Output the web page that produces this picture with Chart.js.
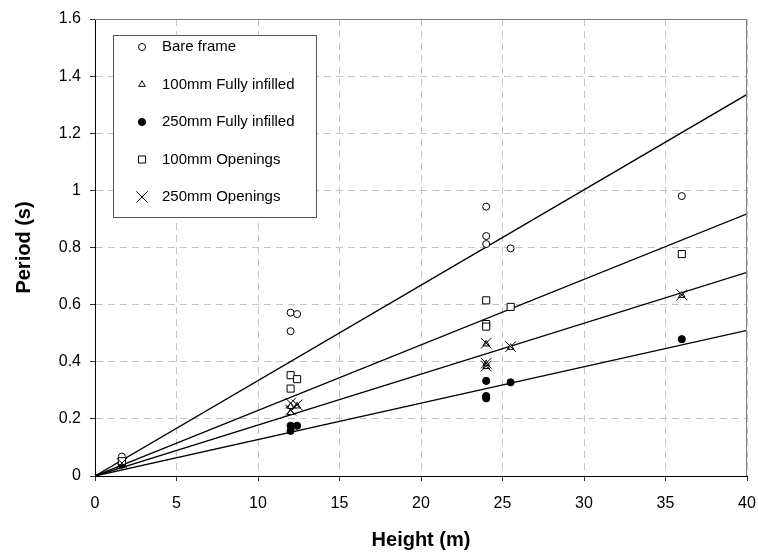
<!DOCTYPE html>
<html><head><meta charset="utf-8">
<script src="https://cdn.jsdelivr.net/npm/chart.js@4.4.1/dist/chart.umd.min.js"></script>
<style>html,body{margin:0;padding:0;background:#fff}#wrap{width:758px;height:552px}</style>
</head><body><div id="wrap"><canvas id="c" width="758" height="552"></canvas></div>
<script>
// ---- data ----
const seriesNames = ['Bare frame', '100mm Fully infilled', '250mm Fully infilled', '100mm Openings', '250mm Openings'];

const bareH = [1.65, 12, 12.4, 12, 24, 24, 24, 25.5, 36];
const bareT = [0.068, 0.572, 0.567, 0.507, 0.943, 0.840, 0.812, 0.797, 0.980];

const inf100H = [1.65, 12, 12.4, 12, 24, 24, 24, 25.5, 36];
const inf100T = [0.038, 0.243, 0.245, 0.222, 0.462, 0.393, 0.383, 0.450, 0.632];

const inf250H = [1.65, 12, 12.4, 12, 24, 24, 24, 25.5, 36];
const inf250T = [0.040, 0.176, 0.176, 0.158, 0.333, 0.280, 0.272, 0.328, 0.479];

const open100H = [1.65, 12, 12.4, 12, 24, 24, 24, 25.5, 36];
const open100T = [0.052, 0.353, 0.339, 0.306, 0.615, 0.532, 0.523, 0.592, 0.777];

const open250H = [1.65, 12, 12.4, 12, 24, 24, 24, 25.5, 36];
const open250T = [0.045, 0.255, 0.249, 0.231, 0.465, 0.395, 0.385, 0.453, 0.634];

// trend lines through the origin: value at H = 40 m
const trendStartH = 0, trendStartT = 0;
const trendEndH = 40;
const trendEndT = [1.336, 0.918, 0.713, 0.510];

const xMin = 0, xMax = 40, xStep = 5;
const yMin = 0, yMax = 1.6, yStep = 0.2;
const xTitle = 'Height (m)';
const yTitle = 'Period (s)';

// ---- styles ----
const FONT = "'Liberation Sans', Arial, sans-serif";
const pts = (xs, ys) => xs.map((x, i) => ({x: x, y: ys[i]}));

const markerStyles = [
  {pointStyle: 'circle', radius: 3.5, bg: '#fff'},
  {pointStyle: 'triangle', radius: 3.8, bg: '#fff'},
  {pointStyle: 'circle', radius: 3.6, bg: '#000'},
  {pointStyle: 'rect', radius: 5, bg: '#fff'},
  {pointStyle: 'crossRot', radius: 7.5, bg: '#fff'}
];
const seriesData = [pts(bareH, bareT), pts(inf100H, inf100T), pts(inf250H, inf250T), pts(open100H, open100T), pts(open250H, open250T)];

const datasets = [];
trendEndT.forEach((t, i) => {
  datasets.push({
    type: 'scatter', label: 'trend' + i, showLine: true,
    data: [{x: trendStartH, y: trendStartT}, {x: trendEndH, y: t}],
    borderColor: '#000', borderWidth: 1.3, pointRadius: 0, fill: false, order: 10
  });
});
seriesNames.forEach((n, i) => {
  const m = markerStyles[i];
  datasets.push({
    type: 'scatter', label: n, data: seriesData[i],
    pointStyle: m.pointStyle, pointRadius: m.radius, pointHoverRadius: m.radius,
    backgroundColor: m.bg, borderColor: '#000', pointBorderWidth: 1, order: 5 - i
  });
});

function drawMarker(ctx, style, r, x, y, bg) {
  ctx.save();
  ctx.lineWidth = 1; ctx.strokeStyle = '#000'; ctx.fillStyle = bg;
  ctx.beginPath();
  if (style === 'circle') { ctx.arc(x, y, r, 0, Math.PI * 2); ctx.fill(); ctx.stroke(); }
  else if (style === 'rect') { const s = r * Math.SQRT1_2; ctx.rect(x - s, y - s, 2 * s, 2 * s); ctx.fill(); ctx.stroke(); }
  else if (style === 'triangle') {
    const t = Math.PI * 2 / 3;
    ctx.moveTo(x, y - r);
    ctx.lineTo(x - Math.sin(t) * r, y + r * 0.5);
    ctx.lineTo(x + Math.sin(t) * r, y + r * 0.5);
    ctx.closePath(); ctx.fill(); ctx.stroke();
  } else if (style === 'crossRot') {
    const o = r * Math.SQRT1_2;
    ctx.moveTo(x - o, y - o); ctx.lineTo(x + o, y + o);
    ctx.moveTo(x - o, y + o); ctx.lineTo(x + o, y - o); ctx.stroke();
  }
  ctx.restore();
}

const framePlugin = {
  id: 'frame',
  afterDraw(chart) {
    const {ctx, chartArea: a} = chart;
    ctx.save();
    ctx.strokeStyle = '#808080'; ctx.lineWidth = 1;
    ctx.beginPath();
    ctx.moveTo(a.left, a.top + 0.5); ctx.lineTo(a.right - 0.5, a.top + 0.5); ctx.lineTo(a.right - 0.5, a.bottom);
    ctx.stroke();
    // legend box
    const L = 113.5, T = 35.5, R = 316.5, B = 217.5;
    ctx.fillStyle = '#fff'; ctx.fillRect(L, T, R - L, B - T);
    ctx.strokeStyle = '#555'; ctx.strokeRect(L, T, R - L, B - T);
    ctx.font = '15px ' + FONT; ctx.fillStyle = '#000'; ctx.textBaseline = 'middle'; ctx.textAlign = 'left';
    seriesNames.forEach((n, i) => {
      const y = 47 + i * 37.5;
      const m = markerStyles[i];
      const lr = m.pointStyle === 'crossRot' ? 8 : m.radius;
      drawMarker(ctx, m.pointStyle, lr, 142, y, m.bg);
      ctx.fillText(n, 162, y);
    });
    ctx.restore();
  }
};

new Chart(document.getElementById('c'), {
  data: {datasets: datasets},
  options: {
    responsive: false, animation: false, devicePixelRatio: 1,
    layout: {padding: {top: 19, right: 11, left: 0, bottom: 0}},
    plugins: {legend: {display: false}, tooltip: {enabled: false}},
    scales: {
      x: {
        type: 'linear', min: xMin, max: xMax,
        afterFit(s) { s.height = 76; s.paddingLeft = 0; s.paddingRight = 0; },
        ticks: {stepSize: xStep, color: '#000', font: {family: FONT, size: 16}, padding: 13, maxRotation: 0},
        grid: {color: '#c4c4c4', lineWidth: 1, tickLength: 5, tickColor: '#333', drawTicks: true},
        border: {color: '#000', width: 1, dash: [7, 5]},
        title: {display: true, text: xTitle, color: '#000', font: {family: FONT, size: 20, weight: 'bold'}, padding: {top: 0, bottom: 0}}
      },
      y: {
        type: 'linear', min: yMin, max: yMax,
        afterFit(s) { s.width = 95; s.paddingTop = 0; s.paddingBottom = 0; },
        ticks: {stepSize: yStep, color: '#000', font: {family: FONT, size: 16}, padding: 9,
          callback: v => String(Math.round(v * 10) / 10)},
        grid: {color: '#c4c4c4', lineWidth: 1, tickLength: 5, tickColor: '#333', drawTicks: true},
        border: {color: '#000', width: 1, dash: [7, 5]},
        title: {display: true, text: yTitle, color: '#000', font: {family: FONT, size: 20, weight: 'bold'}, padding: {top: 12, bottom: 0}}
      }
    }
  },
  plugins: [framePlugin]
});
</script>
</body></html>
